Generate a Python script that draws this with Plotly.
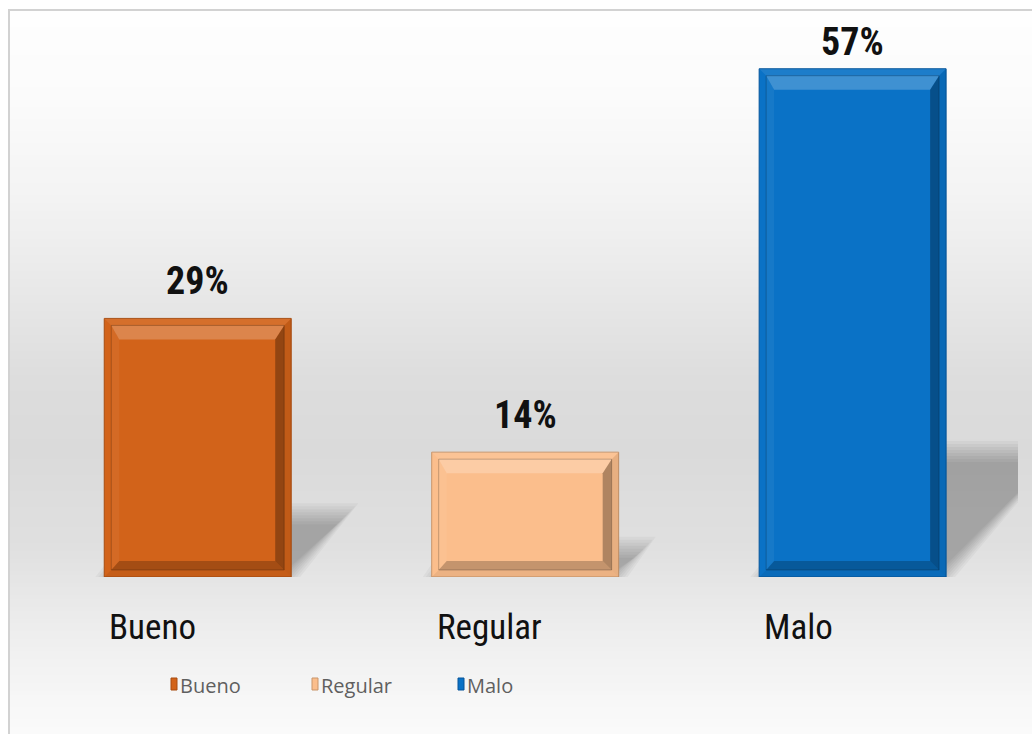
import numpy as np
import plotly.graph_objects as go

# ---- data ----
categories = ["Bueno", "Regular", "Malo"]
percentages = [29, 14, 57]
bar_colors = ["#D2631A", "#FBBE8C", "#0A72C6"]
edge_colors = ["#A84C10", "#C9956A", "#06559A"]

# ---- page geometry (px) ----
W, H = 1032, 734
PLOT_L, PLOT_R = 34, 1018
PLOT_T, PLOT_B = 42, 577
X_RANGE = [-0.5, 2.505]
Y_RANGE = [0, 60]
BAR_W = 0.571

PX_X = (PLOT_R - PLOT_L) / (X_RANGE[1] - X_RANGE[0])   # px per category unit
PX_Y = (PLOT_B - PLOT_T) / (Y_RANGE[1] - Y_RANGE[0])   # px per percent
UX, UY = 1.0 / PX_X, 1.0 / PX_Y

LABEL_FONT = "Roboto Condensed, Roboto, Liberation Sans, sans-serif"


def px(xp):
    return xp / W


def py(yp):
    return 1 - yp / H


def poly(pts):
    return "M " + " L ".join(f"{x:.5f},{y:.5f}" for x, y in pts) + " Z"


shapes = []

# background: soft vertical grey gradient, darkest around the lower middle
grad_y = [10, 100, 200, 300, 380, 450, 550, 620, 700, 734]
grad_v = [254, 251, 243, 231, 221, 218, 224, 236, 247, 250]
step = 4
for y0 in range(11, H, step):
    y1 = min(y0 + step, H)
    g = int(round(np.interp((y0 + y1) / 2, grad_y, grad_v)))
    shapes.append(dict(type="rect", xref="paper", yref="paper", layer="below",
                       x0=px(10), x1=px(W + 2), y0=py(y1 + 0.5), y1=py(y0),
                       fillcolor=f"rgb({g},{g},{g})", line=dict(width=0)))

# thin frame lines at the top and left edge
shapes.append(dict(type="line", xref="paper", yref="paper", layer="below",
                   x0=px(8), x1=px(W + 2), y0=py(10), y1=py(10),
                   line=dict(color="#D2D2D2", width=2)))
shapes.append(dict(type="line", xref="paper", yref="paper", layer="below",
                   x0=px(9), x1=px(9), y0=py(10), y1=py(H + 2),
                   line=dict(color="#D2D2D2", width=2)))

# cast shadows behind each bar (blurred by stacking translucent layers)
for i, v in enumerate(percentages):
    xl, xr = i - BAR_W / 2, i + BAR_W / 2
    ys = 0.25 * v
    dx = 0.225 * v * PX_Y * UX
    for r in [9, 6, 3, 0, -3, -6, -9, -12]:
        rx, ry = r * UX, r * UY
        pts = [(xl - rx, 0), (xr + rx, 0), (xr + dx + rx, ys + ry), (xl + dx - rx, ys + ry)]
        shapes.append(dict(type="path", xref="x", yref="y", layer="below",
                           path=poly(pts), fillcolor="rgba(0,0,0,0.034)",
                           line=dict(width=0)))

# bevelled frame on every bar
F = 7
BT, BL, BR, BB = 14, 8, 9, 9
for i, v in enumerate(percentages):
    xl, xr = i - BAR_W / 2, i + BAR_W / 2
    yb, yt = 0.0, float(v)
    fxl, fxr, fyb, fyt = xl + F * UX, xr - F * UX, yb + F * UY, yt - F * UY
    ixl, ixr = fxl + BL * UX, fxr - BR * UX
    iyb, iyt = fyb + BB * UY, fyt - BT * UY
    pieces = [
        # frame bands
        ([(xl, yt), (xr, yt), (fxr, fyt), (fxl, fyt)], "rgba(255,255,255,0.08)"),
        ([(xr, yt), (xr, yb), (fxr, fyb), (fxr, fyt)], "rgba(0,0,0,0.08)"),
        ([(xl, yb), (xr, yb), (fxr, fyb), (fxl, fyb)], "rgba(0,0,0,0.06)"),
        # bevel slopes
        ([(fxl, fyt), (fxr, fyt), (ixr, iyt), (ixl, iyt)], "rgba(255,255,255,0.22)"),
        ([(fxl, fyt), (ixl, iyt), (ixl, iyb), (fxl, fyb)], "rgba(255,255,255,0.05)"),
        ([(fxr, fyt), (fxr, fyb), (ixr, iyb), (ixr, iyt)], "rgba(0,0,0,0.30)"),
        ([(fxl, fyb), (fxr, fyb), (ixr, iyb), (ixl, iyb)], "rgba(0,0,0,0.22)"),
    ]
    for pts, col in pieces:
        shapes.append(dict(type="path", xref="x", yref="y", layer="above",
                           path=poly(pts), fillcolor=col, line=dict(width=0)))
    # dark seam between frame and bevel
    shapes.append(dict(type="path", xref="x", yref="y", layer="above",
                       path=poly([(fxl, fyt), (fxr, fyt), (fxr, fyb), (fxl, fyb)]),
                       fillcolor="rgba(0,0,0,0)",
                       line=dict(color="rgba(0,0,0,0.22)", width=1)))

# ---- bars ----
fig = go.Figure()
for i, (cat, v) in enumerate(zip(categories, percentages)):
    fig.add_trace(go.Bar(
        x=[i], y=[v], width=BAR_W, name=cat,
        marker=dict(color=bar_colors[i], line=dict(color=edge_colors[i], width=1)),
        showlegend=False, hoverinfo="skip",
    ))

annotations = []
for i, (cat, v) in enumerate(zip(categories, percentages)):
    top_px = PLOT_B - v * PX_Y
    shift = min(37, top_px - 42)
    annotations.append(dict(
        x=i, y=v, xref="x", yref="y", text=f"<b>{v}%</b>", showarrow=False,
        xanchor="center", yanchor="middle", yshift=shift,
        font=dict(family=LABEL_FONT, size=38, color="#111111"),
    ))
    annotations.append(dict(
        x=i - BAR_W / 2 + 3 * UX, y=py(627), xref="x", yref="paper", text=cat,
        showarrow=False, xanchor="left", yanchor="middle",
        font=dict(family=LABEL_FONT, size=35, color="#111111"),
    ))

# legend keys along the bottom
key_left = [171, 312, 458]
for i, cat in enumerate(categories):
    x0 = key_left[i]
    shapes.append(dict(type="rect", xref="paper", yref="paper", layer="above",
                       x0=px(x0), x1=px(x0 + 6), y0=py(690), y1=py(678),
                       fillcolor=bar_colors[i], line=dict(color=edge_colors[i], width=1)))
    annotations.append(dict(
        x=px(x0 + 7), y=py(685), xref="paper", yref="paper", text=cat,
        showarrow=False, xanchor="left", yanchor="middle",
        font=dict(family="Open Sans, Liberation Sans, sans-serif", size=20, color="#5F5F5F"),
    ))

fig.update_layout(
    width=W, height=H,
    margin=dict(l=0, r=0, t=0, b=0),
    paper_bgcolor="white", plot_bgcolor="rgba(0,0,0,0)",
    barmode="overlay",
    xaxis=dict(domain=[px(PLOT_L), px(PLOT_R)], range=X_RANGE, visible=False, fixedrange=True),
    yaxis=dict(domain=[py(PLOT_B), py(PLOT_T)], range=Y_RANGE, visible=False, fixedrange=True),
    shapes=shapes,
    annotations=annotations,
    showlegend=False,
)

fig.write_html("out.html", config={"displayModeBar": False})
